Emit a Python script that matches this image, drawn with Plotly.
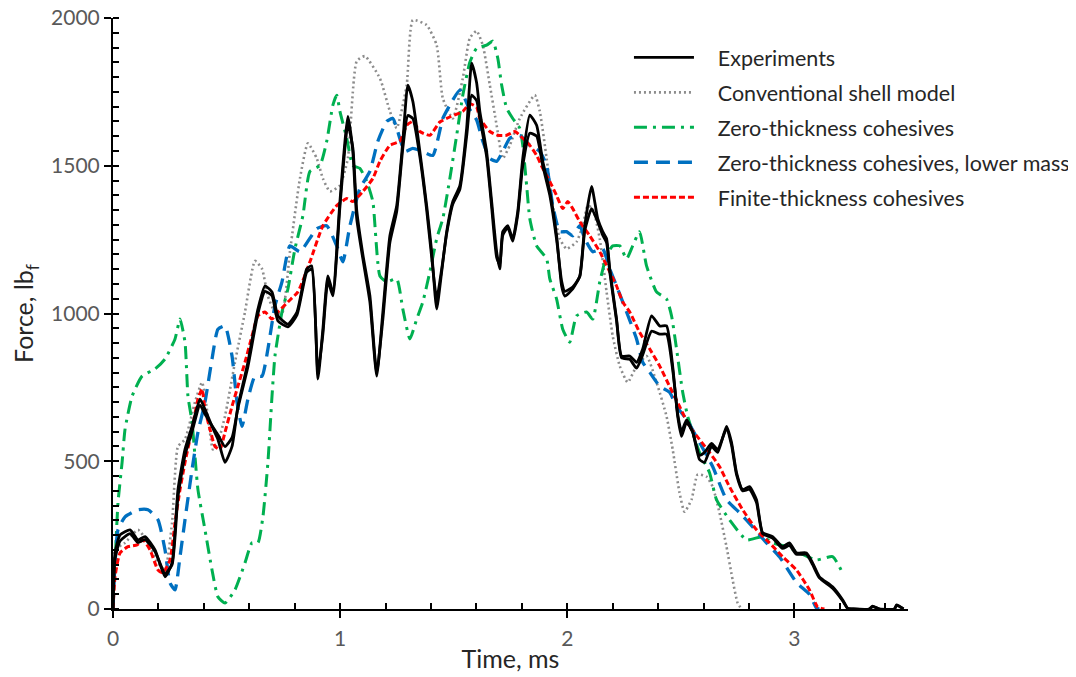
import plotly.graph_objects as go

# ---- data ----
exp_time = [0, 0.009, 0.031, 0.075, 0.110, 0.141, 0.185, 0.229, 0.260, 0.286,
            0.317, 0.348, 0.383, 0.405, 0.436, 0.462, 0.493, 0.524, 0.550, 0.594,
            0.638, 0.669, 0.700, 0.726, 0.770, 0.810, 0.853, 0.875, 0.902, 0.924,
            0.946, 0.968, 0.999, 1.034, 1.056, 1.073, 1.100, 1.131, 1.161, 1.188,
            1.219, 1.249, 1.276, 1.298, 1.320, 1.351, 1.381, 1.403, 1.425, 1.447,
            1.469, 1.496, 1.527, 1.557, 1.579, 1.601, 1.615, 1.645, 1.667, 1.689,
            1.703, 1.716, 1.738, 1.760, 1.782, 1.804, 1.835, 1.865, 1.892, 1.923,
            1.953, 1.975, 1.989, 2.024, 2.055, 2.077, 2.107, 2.134, 2.156, 2.173,
            2.187, 2.217, 2.239, 2.275, 2.305, 2.332, 2.371, 2.407, 2.437, 2.464,
            2.486, 2.503, 2.525, 2.552, 2.582, 2.604, 2.635, 2.662, 2.701, 2.723,
            2.745, 2.772, 2.802, 2.833, 2.860, 2.904, 2.948, 2.978, 3.009, 3.053,
            3.080, 3.110, 3.168, 3.212, 3.234, 3.26, 3.33, 3.344, 3.374, 3.44,
            3.45, 3.48]
exp_a = [0, 190, 251, 268, 234, 245, 200, 109, 156, 404,
         540, 618, 710, 676, 618, 574, 496, 550, 686, 835,
         1015, 1093, 1073, 992, 964, 1005, 1151, 1161, 778, 947,
         1127, 1073, 1379, 1667, 1548, 1321, 1185, 1039, 788, 1005,
         1263, 1365, 1583, 1773, 1718, 1548, 1365, 1209, 1015, 1141,
         1277, 1379, 1433, 1627, 1847, 1780, 1684, 1548, 1379, 1209,
         1151, 1277, 1297, 1253, 1345, 1525, 1671, 1637, 1515, 1413,
         1263, 1093, 1059, 1083, 1127, 1297, 1430, 1321, 1277, 1253,
         1151, 981, 856, 856, 835, 880, 992, 958, 958, 822,
         652, 584, 632, 598, 506, 496, 550, 530, 618, 564,
         462, 404, 414, 370, 258, 245, 211, 224, 190, 190,
         156, 109, 75, 31, 3, 0, 0, 10, 0, 0,
         14, 0]
exp_b = [0, 170, 230, 255, 225, 235, 195, 120, 150, 380,
         520, 600, 690, 660, 620, 590, 550, 580, 680, 820,
         1000, 1075, 1060, 975, 955, 995, 1140, 1150, 800, 930,
         1110, 1060, 1360, 1640, 1560, 1350, 1200, 1060, 800, 980,
         1240, 1345, 1560, 1670, 1660, 1530, 1350, 1190, 1050, 1150,
         1270, 1370, 1420, 1600, 1739, 1720, 1660, 1530, 1360, 1190,
         1165, 1265, 1290, 1245, 1335, 1500, 1610, 1600, 1500, 1400,
         1250, 1110, 1075, 1090, 1125, 1280, 1355, 1310, 1265, 1240,
         1140, 975, 850, 845, 815, 860, 940, 930, 930, 810,
         660, 600, 640, 600, 520, 530, 560, 540, 610, 555,
         455, 400, 405, 360, 255, 240, 205, 215, 185, 185,
         150, 105, 70, 28, 2, 0, 0, 8, 0, 0,
         12, 0]

shell_time = [0, 0.009, 0.053, 0.110, 0.154, 0.198, 0.229, 0.260, 0.286, 0.317,
              0.361, 0.392, 0.418, 0.440, 0.462, 0.493, 0.537, 0.581, 0.625, 0.656,
              0.682, 0.713, 0.744, 0.779, 0.823, 0.858, 0.897, 0.924, 0.955, 0.999,
              1.034, 1.073, 1.109, 1.175, 1.219, 1.249, 1.293, 1.320, 1.381, 1.425,
              1.452, 1.496, 1.540, 1.571, 1.601, 1.628, 1.659, 1.689, 1.716, 1.747,
              1.791, 1.857, 1.879, 1.909, 1.936, 1.967, 1.997, 2.041, 2.068, 2.090,
              2.112, 2.143, 2.173, 2.200, 2.231, 2.266, 2.305, 2.349, 2.393, 2.437,
              2.464, 2.494, 2.516, 2.547, 2.574, 2.613, 2.640, 2.670, 2.701, 2.728,
              2.750, 2.767]
shell_force = [0, 200, 224, 268, 224, 156, 132, 292, 550, 574,
               700, 767, 652, 540, 564, 652, 835, 1005, 1178, 1151,
               1059, 1005, 1000, 1209, 1457, 1576, 1525, 1457, 1413, 1433,
               1525, 1854, 1871, 1796, 1684, 1627, 1773, 1993, 1976, 1908,
               1728, 1660, 1796, 1932, 1956, 1908, 1773, 1637, 1525, 1569,
               1660, 1739, 1684, 1525, 1365, 1253, 1219, 1243, 1297, 1365,
               1355, 1253, 1073, 924, 822, 767, 822, 856, 767, 652,
               540, 394, 329, 370, 455, 448, 414, 326, 211, 98,
               20, 0]

zero_time = [0, 0.009, 0.022, 0.040, 0.053, 0.084, 0.128, 0.185, 0.229, 0.273,
             0.295, 0.317, 0.330, 0.348, 0.374, 0.405, 0.436, 0.462, 0.493, 0.537,
             0.581, 0.612, 0.638, 0.660, 0.682, 0.700, 0.713, 0.744, 0.770, 0.801,
             0.836, 0.867, 0.911, 0.941, 0.968, 0.985, 0.999, 1.029, 1.056, 1.087,
             1.117, 1.144, 1.175, 1.205, 1.249, 1.276, 1.307, 1.337, 1.364, 1.395,
             1.425, 1.452, 1.483, 1.513, 1.540, 1.571, 1.601, 1.645, 1.672, 1.694,
             1.711, 1.733, 1.760, 1.791, 1.804, 1.821, 1.835, 1.865, 1.909, 1.923,
             1.953, 1.980, 2.011, 2.041, 2.085, 2.112, 2.143, 2.173, 2.200, 2.231,
             2.261, 2.288, 2.318, 2.349, 2.393, 2.437, 2.459, 2.481, 2.508, 2.530,
             2.552, 2.582, 2.626, 2.657, 2.714, 2.789, 2.860, 2.904, 2.965, 3.022,
             3.097, 3.168, 3.212]
zero_force = [0, 156, 360, 496, 608, 720, 788, 812, 846, 914,
              981, 903, 720, 632, 404, 268, 132, 41, 20, 65,
              156, 224, 224, 312, 496, 720, 856, 1005, 1083, 1219,
              1331, 1481, 1501, 1583, 1705, 1739, 1684, 1593, 1501, 1491,
              1447, 1379, 1127, 1107, 1117, 1015, 914, 981, 1039, 1141,
              1253, 1321, 1457, 1603, 1739, 1850, 1898, 1908, 1922, 1864,
              1773, 1695, 1660, 1627, 1569, 1433, 1321, 1229, 1185, 1117,
              1049, 947, 903, 992, 1005, 981, 1107, 1195, 1229, 1229,
              1185, 1229, 1277, 1161, 1073, 1049, 992, 880, 734, 652,
              598, 530, 462, 370, 302, 234, 245, 224, 211, 190,
              166, 177, 122]

lowmass_time = [0, 0.009, 0.022, 0.053, 0.110, 0.154, 0.198, 0.229, 0.251, 0.273,
                0.295, 0.317, 0.348, 0.374, 0.405, 0.436, 0.462, 0.493, 0.524, 0.546,
                0.568, 0.594, 0.625, 0.656, 0.682, 0.713, 0.744, 0.779, 0.823, 0.897,
                0.941, 0.985, 1.012, 1.043, 1.087, 1.131, 1.166, 1.205, 1.232, 1.285,
                1.320, 1.364, 1.408, 1.452, 1.483, 1.527, 1.571, 1.601, 1.628, 1.659,
                1.689, 1.716, 1.747, 1.791, 1.835, 1.879, 1.909, 1.936, 1.967, 1.997,
                2.024, 2.055, 2.077, 2.112, 2.156, 2.187, 2.217, 2.261, 2.305, 2.332,
                2.363, 2.407, 2.450, 2.481, 2.525, 2.582, 2.640, 2.701, 2.758, 2.816,
                2.877, 2.934, 3.009, 3.066, 3.097, 3.110]
lowmass_force = [0, 156, 268, 312, 336, 336, 302, 200, 88, 65,
                 177, 302, 472, 598, 700, 846, 947, 958, 856, 700,
                 618, 710, 788, 788, 880, 1026, 1107, 1229, 1209, 1287,
                 1297, 1229, 1175, 1297, 1423, 1481, 1583, 1650, 1660, 1548,
                 1559, 1548, 1535, 1660, 1705, 1756, 1690, 1655, 1583, 1525,
                 1515, 1548, 1593, 1603, 1569, 1548, 1501, 1365, 1277, 1277,
                 1263, 1297, 1253, 1209, 1219, 1151, 1093, 1005, 914, 835,
                 801, 754, 734, 686, 642, 564, 482, 370, 326, 278,
                 224, 177, 90, 50, 3, 0]

finite_time = [0, 0.009, 0.031, 0.066, 0.106, 0.132, 0.163, 0.198, 0.220, 0.251,
               0.273, 0.295, 0.317, 0.348, 0.374, 0.392, 0.405, 0.427, 0.449, 0.471,
               0.493, 0.524, 0.550, 0.581, 0.612, 0.638, 0.669, 0.700, 0.726, 0.770,
               0.814, 0.867, 0.924, 0.985, 1.029, 1.056, 1.100, 1.144, 1.175, 1.219,
               1.263, 1.293, 1.320, 1.351, 1.395, 1.439, 1.483, 1.540, 1.571, 1.601,
               1.615, 1.659, 1.694, 1.733, 1.769, 1.804, 1.835, 1.865, 1.892, 1.923,
               1.953, 1.980, 2.002, 2.024, 2.055, 2.099, 2.143, 2.187, 2.217, 2.244,
               2.275, 2.318, 2.363, 2.407, 2.450, 2.494, 2.538, 2.582, 2.626, 2.670,
               2.714, 2.772, 2.833, 2.890, 2.948, 3.009, 3.066, 3.102, 3.132]
finite_force = [0, 109, 190, 211, 217, 234, 200, 132, 122, 166,
                292, 404, 496, 608, 710, 744, 676, 608, 550, 540,
                598, 686, 754, 835, 924, 992, 1005, 981, 1005, 1039,
                1073, 1175, 1297, 1365, 1389, 1379, 1413, 1457, 1515, 1569,
                1583, 1637, 1650, 1616, 1603, 1648, 1665, 1684, 1710, 1698,
                1660, 1616, 1603, 1603, 1616, 1593, 1569, 1535, 1491, 1447,
                1399, 1355, 1379, 1355, 1311, 1263, 1209, 1141, 1093, 1039,
                1005, 937, 880, 822, 754, 686, 618, 574, 530, 482,
                414, 336, 268, 224, 177, 132, 65, 7, 0]

series_names = ["Experiments", "Conventional shell model", "Zero-thickness cohesives",
                "Zero-thickness cohesives, lower mass", "Finite-thickness cohesives"]
x_ticks = [0, 1, 2, 3]
y_ticks = [0, 500, 1000, 1500, 2000]

FONT = "Lato"
fig = go.Figure()

def add(x, y, idx, color, width, dash, show=True):
    name = series_names[idx]
    fig.add_trace(go.Scatter(
        x=x, y=y, name="\u2003\u2009" + name, mode="lines", showlegend=show,
        legendgroup=name, legendrank=idx + 1,
        line=dict(color=color, width=width, dash=dash, shape="spline", smoothing=0.5),
        hoverinfo="skip"))

add(shell_time, shell_force, 1, "#8c8c8c", 2.6, "2px,3px")
add(zero_time, zero_force, 2, "#00b050", 3, "13px,6px,3px,6px")
add(lowmass_time, lowmass_force, 3, "#0070c0", 3.3, "14px,8px")
add(finite_time, finite_force, 4, "#ff0000", 3, "6px,3px")
add(exp_time, exp_a, 0, "#000000", 2.8, "solid")
add(exp_time, exp_b, 0, "#000000", 2.8, "solid", show=False)

axis_common = dict(showgrid=False, zeroline=False, showline=True, linecolor="black",
                   linewidth=2, automargin=False, ticklabeloverflow="allow")

# the page body adds an 8px offset, margins compensate for it
fig.update_layout(
    width=1076, height=677,
    margin=dict(l=105, r=176, t=10, b=76, autoexpand=False),
    plot_bgcolor="white", paper_bgcolor="white",
    font=dict(family=FONT, color="#595959", size=21),
    xaxis=dict(range=[0, 3.5], tickvals=x_ticks, ticks="outside", ticklen=7,
               tickwidth=2, tickcolor="black", ticklabelstandoff=3,
               minor=dict(ticks="inside", dtick=0.2, ticklen=6, tickwidth=1.5,
                          tickcolor="black"),
               title=dict(text="Time, ms", font=dict(size=25, color="#262626"), standoff=1),
               tickfont=dict(size=21, color="#595959"), **axis_common),
    yaxis=dict(range=[0, 2000], tickvals=y_ticks, ticks="outside", ticklen=7,
               tickwidth=2, tickcolor="black",
               minor=dict(ticks="inside", dtick=50, ticklen=6, tickwidth=1.5,
                          tickcolor="black"),
               title=dict(text="Force, lb<sub>f</sub>", font=dict(size=25, color="#262626"),
                          standoff=10),
               tickfont=dict(size=21, color="#595959"), **axis_common),
    xaxis2=dict(overlaying="x", matches="x", range=[0, 3.5], tickvals=x_ticks,
                ticks="inside", ticklen=7, tickwidth=2, tickcolor="black",
                showticklabels=False, showgrid=False, zeroline=False, showline=False,
                anchor="y", automargin=False),
    yaxis2=dict(overlaying="y", matches="y", range=[0, 2000], tickvals=y_ticks,
                ticks="inside", ticklen=7, tickwidth=2, tickcolor="black",
                showticklabels=False, showgrid=False, zeroline=False, showline=False,
                anchor="x", side="left", automargin=False),
    legend=dict(x=0.649, y=0.968, xanchor="left", yanchor="top",
                bgcolor="rgba(0,0,0,0)", font=dict(size=21.5, color="#262626", family=FONT),
                itemwidth=60, traceorder="grouped", tracegroupgap=4),
)

fig.write_html("out.html")
